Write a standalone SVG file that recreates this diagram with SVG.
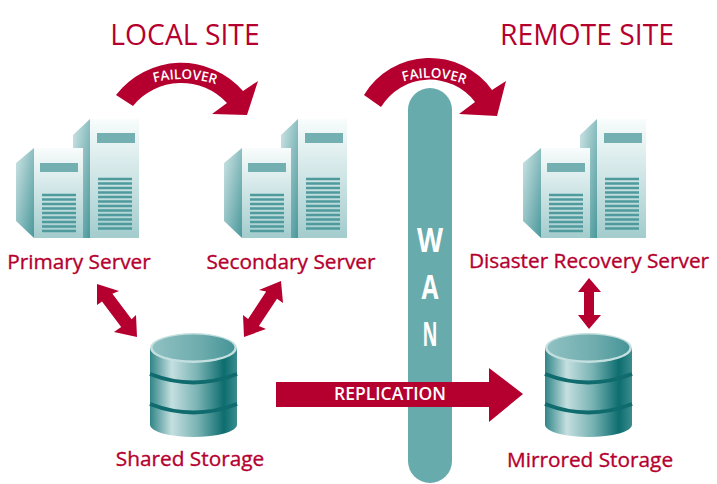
<svg xmlns="http://www.w3.org/2000/svg" width="717" height="484" viewBox="0 0 717 484">
<style>
text{font-family:"Open Sans","Liberation Sans",sans-serif}
.t{fill:#b5002f;font-size:28.300px;text-anchor:middle}
.l{fill:#b5002f;font-size:20.800px;text-anchor:middle;stroke:#b5002f;stroke-width:.35px}
.w{fill:#fff;text-anchor:middle;font-weight:600}
.a{fill:#b5002f}
</style>
<defs>
<linearGradient id="front" x1="0" y1="0" x2="0" y2="1"><stop offset="0" stop-color="#f8fcfc"/><stop offset="1" stop-color="#a3cccd"/></linearGradient>
<linearGradient id="side" x1="0" y1="0" x2="1" y2="1"><stop offset="0" stop-color="#cfe5e6"/><stop offset="1" stop-color="#4a989b"/></linearGradient>
<linearGradient id="cyl" x1="0" y1="0" x2="1" y2="0"><stop offset="0" stop-color="#2f8587"/><stop offset=".25" stop-color="#c5dfe0"/><stop offset=".55" stop-color="#78b2b3"/><stop offset=".85" stop-color="#0d6d6f"/><stop offset="1" stop-color="#3a8c8e"/></linearGradient>
<linearGradient id="top" x1="0" y1="0" x2="1" y2="0"><stop offset="0" stop-color="#8fc1c2"/><stop offset=".6" stop-color="#6dabad"/><stop offset="1" stop-color="#459497"/></linearGradient>
<g id="srv">
<polygon points="73,135 90,119 90,238 83,238 73,222" fill="url(#side)"/>
<rect x="90" y="119" width="49" height="119" fill="url(#front)"/>
<rect x="97" y="133" width="38" height="10" fill="#74afb1"/>
<path d="M98 179h34M98 183.500h34M98 188h34M98 192.500h34M98 197h34M98 201.500h34M98 206h34M98 210.500h34M98 215h34M98 219.500h34M98 224h34M98 228.500h34" stroke="#4f9a9d" stroke-width="2.300" fill="none"/>
<polygon points="16,163 34,148 34,238 16,221" fill="url(#side)"/>
<rect x="34" y="148" width="49" height="90" fill="url(#front)"/>
<rect x="40" y="163" width="38" height="9" fill="#74afb1"/>
<path d="M42 195h34M42 199.500h34M42 204h34M42 208.500h34M42 213h34M42 217.500h34M42 222h34M42 226.500h34M42 231h34" stroke="#4f9a9d" stroke-width="2.300" fill="none"/>
</g>
<g id="db">
<path d="M150 348V425A43.500 12 0 0 0 237 425V348Z" fill="url(#cyl)"/>
<path d="M150 374Q193.500 391 237 374M150 404Q193.500 421 237 404" fill="none" stroke="#0f6b6d" stroke-width="4"/>
<ellipse cx="193.500" cy="348" rx="43.500" ry="15" fill="#c4dfdf"/>
<ellipse cx="193.500" cy="347.500" rx="41" ry="13" fill="url(#top)"/>
</g>
</defs>
<rect width="717" height="484" fill="#fff"/>
<g id="wan">
<rect x="408" y="88" width="44" height="395" rx="22" fill="#68abad"/>
<g font-size="34" font-weight="700" text-anchor="middle"><text x="430" y="252" fill="#fff" textLength="26" lengthAdjust="spacingAndGlyphs">W</text><text x="430" y="299" fill="#fff" textLength="17" lengthAdjust="spacingAndGlyphs">A</text><text x="430" y="346" fill="#fff" textLength="15" lengthAdjust="spacingAndGlyphs">N</text></g>
</g>
<g id="titles">
<text class="t" x="185" y="45">LOCAL SITE</text>
<text class="t" x="587" y="45">REMOTE SITE</text>
</g>
<g id="primary-server"><use href="#srv"/><text class="l" x="79" y="269">Primary Server</text></g>
<g id="secondary-server"><use href="#srv" x="208"/><text class="l" x="291" y="269">Secondary Server</text></g>
<g id="dr-server"><use href="#srv" x="507"/><text class="l" x="589" y="268">Disaster Recovery Server</text></g>
<g id="shared-storage"><use href="#db"/><text class="l" x="190" y="466">Shared Storage</text></g>
<g id="mirrored-storage"><use href="#db" x="395"/><text class="l" x="590" y="467">Mirrored Storage</text></g>
<g id="connectors">
<path class="a" d="M116 95A82 82 0 0 1 243 91L258 81L247 115L212 114L227 103A62 62 0 0 0 133 106Z"/>
<path class="a" d="M364 95A76.600 76.600 0 0 1 492 90L506 81L497 116L459 114L475 102A57 57 0 0 0 381 107Z"/>
<polygon class="a" points="97,284 119,291 112.400,293.700 131.600,319.300 136,315 137,337 114,332 121.200,327.100 102,301.500 97,305"/>
<polygon class="a" points="281,281 283,303 277,298.700 258.900,326.100 266,329 244,337 243,315 248.100,318.900 266.200,291.500 259,290"/>
<polygon class="a" points="589,278 601,292 594,292 594,315 601,315 589,329 578,315 584,315 584,292 578,292"/>
<polygon class="a" points="276,382 489,382 489,368 523,394 489,422 489,407 276,407"/>
<text class="w" font-size="17.500" x="390" y="400">REPLICATION</text>
<path id="f1" d="M146 85Q184 72 224 87" fill="none"/>
<path id="f2" d="M394 85Q432 69 474 88" fill="none"/>
<text class="w" font-size="13.500"><textPath href="#f1" startOffset="50%">FAILOVER</textPath></text>
<text class="w" font-size="13.500"><textPath href="#f2" startOffset="50%">FAILOVER</textPath></text>
</g>
</svg>
